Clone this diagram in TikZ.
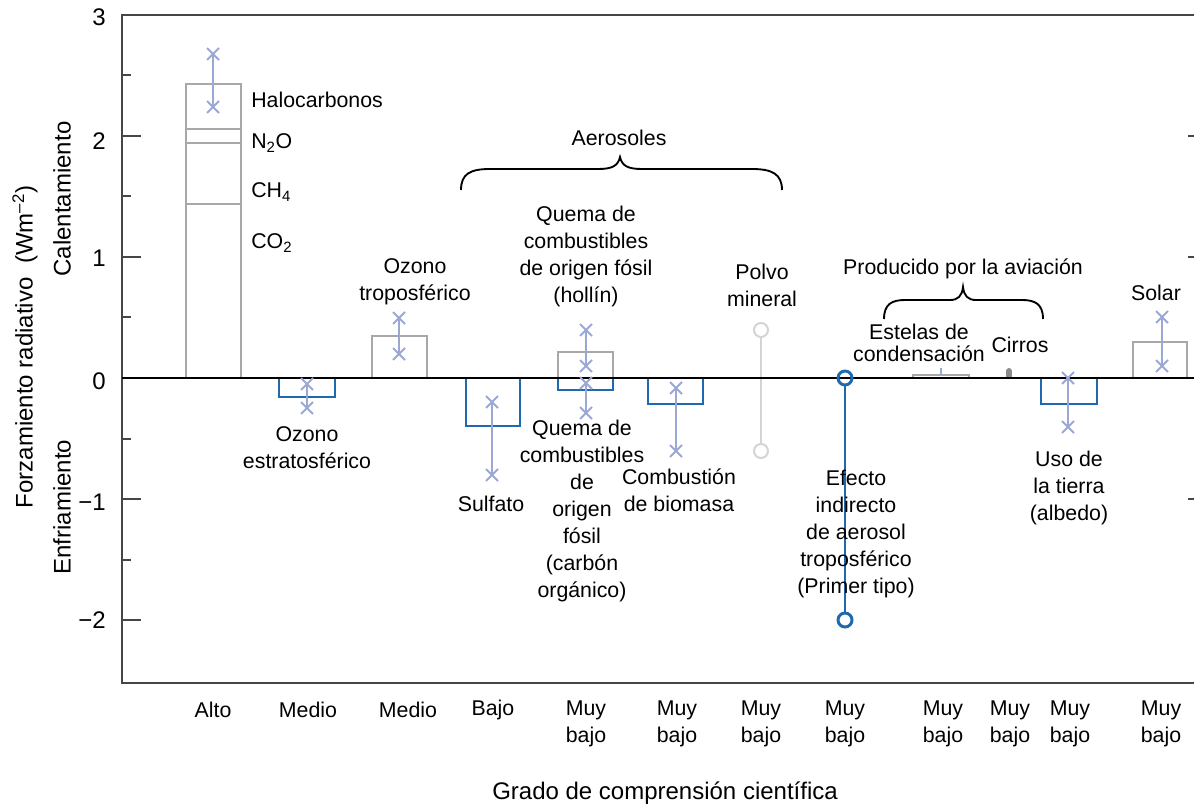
\documentclass[tikz,border=0pt]{standalone}
\usepackage{fontspec}
\setmainfont{Liberation Sans}
\usepackage{tikz}

\definecolor{barblue}{RGB}{30,105,175}
\definecolor{errlav}{RGB}{155,168,214}
\definecolor{bargray}{RGB}{168,168,168}
\definecolor{dustgray}{RGB}{212,212,212}
\definecolor{axisgray}{RGB}{70,70,70}
\definecolor{cirrgray}{RGB}{140,140,140}

% error bar: x, y of one end, y of other end
\newcommand{\ebar}[3]{%
  \draw[errline] (#1,#2) -- (#1,#3);
  \draw[errline] ({#1-6},{#2-6}) -- ({#1+6},{#2+6}) ({#1-6},{#2+6}) -- ({#1+6},{#2-6});
  \draw[errline] ({#1-6},{#3-6}) -- ({#1+6},{#3+6}) ({#1-6},{#3+6}) -- ({#1+6},{#3-6});
}

\begin{document}
\begin{tikzpicture}[x=0.75pt,y=0.75pt,yscale=-1,xscale=1,
  lbl/.style={inner sep=0pt, align=center, font=\fontsize{16}{20.25}\selectfont},
  biglbl/.style={lbl, font=\fontsize{18}{22}\selectfont},
  axisline/.style={color=axisgray, line width=1.2pt},
  graybar/.style={color=bargray, line width=1.5pt},
  bluebar/.style={color=barblue, line width=2.2pt},
  errline/.style={color=errlav, line width=1.5pt},
  brace/.style={line width=1.4pt}]
\useasboundingbox (0,0) rectangle (1194,806);

%Shape: Axes
\draw[axisline] (1194,15) -- (122,15) -- (122,683) -- (1194,683);
%Ticks left
\foreach \ty in {136,257,378,499,620} \draw[axisline] (122,\ty) -- (141,\ty);
\foreach \ty in {75,196,317,439,560} \draw[axisline] (122,\ty) -- (131,\ty);
%Ticks right
\foreach \ty in {136,257,499} \draw[axisline] (1188,\ty) -- (1194,\ty);

%Shape: greenhouse gas bar
\draw[graybar] (186,378) -- (186,84) -- (241,84) -- (241,378);
\draw[graybar, line width=1.2pt] (186,129) -- (241,129) (186,143) -- (241,143) (186,204) -- (241,204);
%Shape: other bars
\draw[bluebar] (279,378) rectangle (335,397);
\draw[graybar] (372,378) rectangle (427,336);
\draw[bluebar] (466,378) rectangle (520,426);
\draw[graybar] (558,378) rectangle (613,352);
\draw[bluebar] (558,378) rectangle (613,390);
\draw[bluebar] (648,378) rectangle (703,404);
\draw[graybar] (913,378) rectangle (969,375);
\draw[bluebar] (1041,378) rectangle (1097,404);
\draw[graybar] (1133,378) rectangle (1187,342);

%Shape: mineral dust range
\draw[dustgray, line width=1.5pt] (761,337) -- (761,444);
\draw[dustgray, line width=1.5pt] (761,330) circle (7) (761,451) circle (7);
%Shape: cirrus
\draw[cirrgray, line width=4.5pt, line cap=round] (1009,371) -- (1009,376);

%Straight Lines: zero line
\draw[line width=1.5pt] (122,378) -- (1194,378);

%Shape: indirect aerosol range
\draw[barblue, line width=2.2pt] (845,385) -- (845,613);
\draw[barblue, line width=2.2pt] (845,378) circle (7) (845,620) circle (7);

%Error bars
\ebar{213}{54}{107}
\ebar{307}{384}{408}
\ebar{399}{318}{354}
\ebar{492}{402}{475}
\ebar{586}{330}{366}
\ebar{586}{383}{413}
\ebar{676}{388}{451}
\ebar{1068}{378}{427}
\ebar{1162}{317}{366}
\draw[errlav, line width=2.2pt] (941,368) -- (941,376);

%Braces
\draw[brace] (461,190) .. controls (461,174) and (470,169) .. (490,169) -- (598,169) .. controls (612,169) and (618,166) .. (620,157) .. controls (622,166) and (628,169) .. (642,169) -- (752,169) .. controls (772,169) and (782,174) .. (782,190);
\draw[brace] (884,319) .. controls (884,304) and (892,300) .. (905,300) -- (950,300) .. controls (958,300) and (962,296) .. (963,287) .. controls (964,296) and (968,300) .. (976,300) -- (1022,300) .. controls (1035,300) and (1043,304) .. (1043,319);

% Text Node: tick labels
\node[biglbl, anchor=east] (t3) at (106,17) {3};
\node[biglbl, anchor=east] (t2) at (106,141) {2};
\node[biglbl, anchor=east] (t1) at (106,258) {1};
\node[biglbl, anchor=east] (t0) at (106,381) {0};
\node[biglbl, anchor=east] (tm1) at (106,502) {−1};
\node[biglbl, anchor=east] (tm2) at (106,620) {−2};

% Text Node: axis titles
\node[biglbl, rotate=90] (ytitle) at (25,347) {Forzamiento radiativo\ \ (Wm\textsuperscript{–2})};
\node[biglbl, rotate=90] (warm) at (62,199) {Calentamiento};
\node[biglbl, rotate=90] (cool) at (62,507) {Enfriamiento};
\node[biglbl] (xtitle) at (665,793) {Grado de comprensión científica};

% Text Node: gases
\node[lbl, anchor=west] (halo) at (251,100) {Halocarbonos};
\node[lbl, anchor=west] (ntwoo) at (251,143) {N\textsubscript{2}O};
\node[lbl, anchor=west] (chfour) at (251,192) {CH\textsubscript{4}};
\node[lbl, anchor=west] (cotwo) at (251,243) {CO\textsubscript{2}};

% Text Node: components
\node[lbl] (ozstrat) at (307,448) {Ozono\\estratosférico};
\node[lbl] (oztrop) at (415,282) {Ozono\\troposférico};
\node[lbl] (aeros) at (619,138) {Aerosoles};
\node[lbl] (soot) at (586,256) {Quema de\\combustibles\\de origen fósil\\(hollín)};
\node[lbl] (sulf) at (491,504) {Sulfato};
\node[lbl] (orgc) at (582,511) {Quema de\\combustibles\\de\\origen\\fósil\\(carbón\\orgánico)};
\node[lbl] (biom) at (679,490) {Combustión\\de biomasa};
\node[lbl] (dust) at (762,285) {Polvo\\mineral};
\node[lbl] (indir) at (856,534) {Efecto\\indirecto\\de aerosol\\troposférico\\(Primer tipo)};
\node[lbl] (aviat) at (963,269) {Producido por la aviación};
\node[lbl, font=\fontsize{16}{16.5}\selectfont] (contr) at (919,343) {Estelas de\\condensación};
\node[lbl] (cirr) at (1020,345) {Cirros};
\node[lbl] (landu) at (1069,488) {Uso de\\la tierra\\(albedo)};
\node[lbl] (solar) at (1156,293) {Solar};

% Text Node: level of understanding
\node[lbl] (l1) at (213,710) {Alto};
\node[lbl] (l2) at (308,710) {Medio};
\node[lbl] (l3) at (408,710) {Medio};
\node[lbl] (l4) at (493,710) {Bajo};
\foreach \lx/\nm in {586/l5,677/l6,761/l7,845/l8,943/l9,1010/l10,1070/l11,1161/l12}
  \node[lbl] (\nm) at (\lx,723.5) {Muy\\bajo};

\end{tikzpicture}
\end{document}
